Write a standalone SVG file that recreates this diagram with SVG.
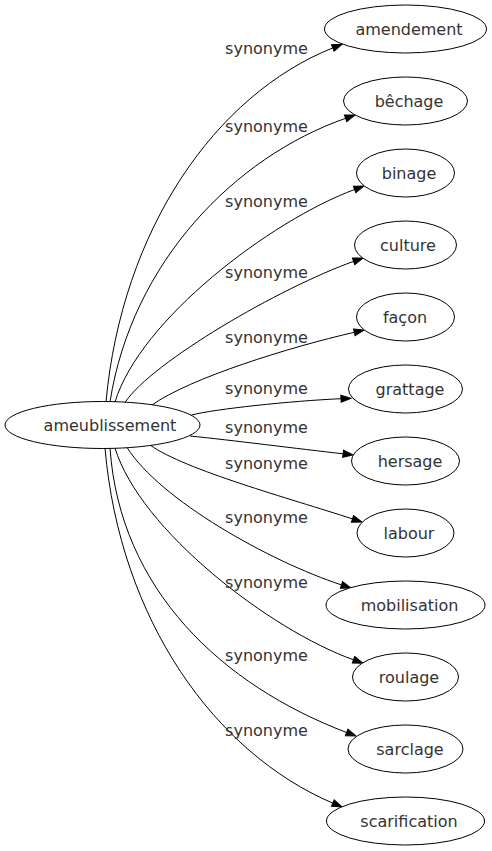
<svg xmlns="http://www.w3.org/2000/svg" width="492" height="851" viewBox="0 0 492 851">
<defs>
<style>
.node ellipse{fill:#ffffff;stroke:#000000;stroke-width:1}
.node text{font-family:"DejaVu Sans","Noto Sans",sans-serif;font-size:16px;fill:#333333;text-anchor:middle}
.edges path{fill:none;stroke:#000000;stroke-width:1;marker-end:url(#arr)}
.edges text{font-family:"DejaVu Sans","Noto Sans",sans-serif;font-size:16px;fill:#333333;text-anchor:middle}
</style>
<marker id="arr" markerUnits="userSpaceOnUse" markerWidth="10" markerHeight="7" refX="0" refY="3.5" orient="auto" overflow="visible">
<path d="M0,0 L10,3.5 L0,7 Z" fill="#000000" stroke="#000000" stroke-width="1"/>
</marker>
</defs>
<rect width="492" height="851" fill="#ffffff"/>
<g class="edges" id="edges">
<path d="M106,401.7 C122,230 215,95 332.8,47.9"/>
<path d="M110,401.8 C132,262 235,157 345.6,118.3"/>
<path d="M115,402 C140,320 270,221 354.6,189.5"/>
<path d="M125,402.4 C152,362 280,287.6 353.6,261.4"/>
<path d="M152,405 C190,378 290,347 354.3,332.3"/>
<path d="M191.5,415 C215,409 290,401 341,398.7"/>
<path d="M190,436 C230,440 300,449 343.1,453.8"/>
<path d="M150,445 C185,470 290,498.5 352.5,518.9"/>
<path d="M127,447.4 C160,500 270,561.5 341.5,584.9"/>
<path d="M115,448 C140,530 270,630 353.5,659.8"/>
<path d="M110,448.2 C120,590 222,685 346.6,732.5"/>
<path d="M105,448.3 C120,620 215,753 332.8,803.1"/>
<text x="266.5" y="53.5">synonyme</text>
<text x="266.5" y="131.7">synonyme</text>
<text x="266.5" y="206.7">synonyme</text>
<text x="266.5" y="278.3">synonyme</text>
<text x="266.5" y="342.5">synonyme</text>
<text x="266.5" y="394.2">synonyme</text>
<text x="266.5" y="433.3">synonyme</text>
<text x="266.5" y="469.2">synonyme</text>
<text x="266.5" y="522.5">synonyme</text>
<text x="266.5" y="587.5">synonyme</text>
<text x="266.5" y="660.8">synonyme</text>
<text x="266.5" y="735.8">synonyme</text>
</g>
<g class="node" id="n-ameublissement"><ellipse cx="102.5" cy="425" rx="97.5" ry="23.5"/><text x="110" y="431">ameublissement</text></g>
<g class="node" id="n-amendement"><ellipse cx="405.5" cy="29" rx="81" ry="24"/><text x="409" y="34.5">amendement</text></g>
<g class="node" id="n-bechage"><ellipse cx="405.5" cy="101" rx="62" ry="24"/><text x="409" y="106.5">bêchage</text></g>
<g class="node" id="n-binage"><ellipse cx="405.5" cy="173" rx="49" ry="24"/><text x="409" y="178.5">binage</text></g>
<g class="node" id="n-culture"><ellipse cx="405.5" cy="245" rx="51" ry="24"/><text x="408" y="250.5">culture</text></g>
<g class="node" id="n-facon"><ellipse cx="405.5" cy="317" rx="49" ry="24"/><text x="405" y="322.5">façon</text></g>
<g class="node" id="n-grattage"><ellipse cx="405.5" cy="389" rx="57" ry="24"/><text x="410" y="394.5">grattage</text></g>
<g class="node" id="n-hersage"><ellipse cx="405.5" cy="461" rx="54" ry="24"/><text x="410" y="466.5">hersage</text></g>
<g class="node" id="n-labour"><ellipse cx="405.5" cy="533" rx="48.5" ry="24"/><text x="409" y="538.5">labour</text></g>
<g class="node" id="n-mobilisation"><ellipse cx="405.5" cy="605" rx="79.5" ry="24"/><text x="409.5" y="610.5">mobilisation</text></g>
<g class="node" id="n-roulage"><ellipse cx="405.5" cy="677" rx="53" ry="24"/><text x="409" y="682.5">roulage</text></g>
<g class="node" id="n-sarclage"><ellipse cx="405.5" cy="749" rx="57.5" ry="24"/><text x="410" y="754.5">sarclage</text></g>
<g class="node" id="n-scarification"><ellipse cx="405.5" cy="821" rx="79" ry="24"/><text x="409" y="826.5">scarification</text></g>
</svg>
